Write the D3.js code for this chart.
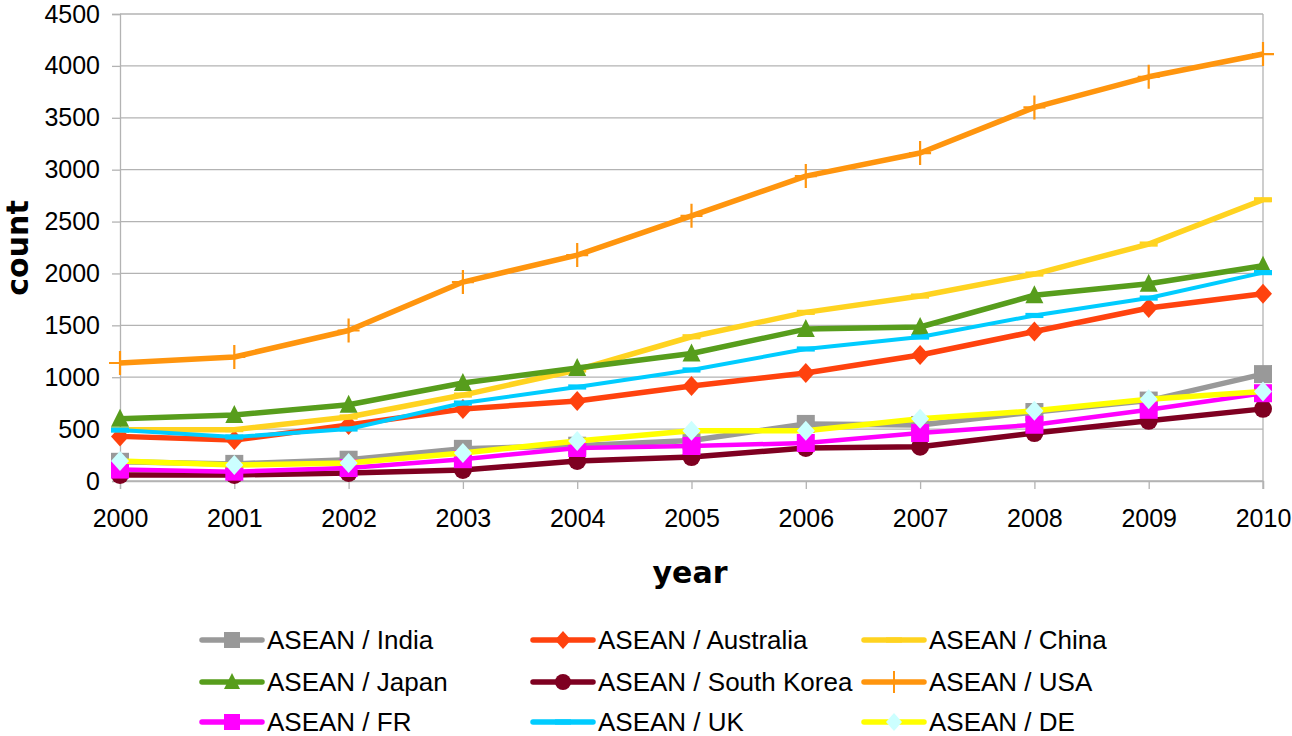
<!DOCTYPE html>
<html>
<head>
<meta charset="utf-8">
<script src="https://cdn.jsdelivr.net/npm/d3@7"></script>
<style>
  html, body { margin: 0; padding: 0; background: #ffffff; }
  svg { display: block; }
</style>
</head>
<body>
<svg id="chart" width="1292" height="736"></svg>
<script>
// ---- data ----
const years = ["2000","2001","2002","2003","2004","2005","2006","2007","2008","2009","2010"];
const yTicks = [0,500,1000,1500,2000,2500,3000,3500,4000,4500];
const seriesNames = ["ASEAN / India","ASEAN / Australia","ASEAN / China","ASEAN / Japan","ASEAN / South Korea","ASEAN / USA","ASEAN / FR","ASEAN / UK","ASEAN / DE"];
const india      = [185, 165, 205, 310, 340, 390, 550, 540, 665, 775, 1030];
const australia  = [430, 395, 540, 694, 771, 915, 1040, 1214, 1440, 1667, 1805];
const china      = [495, 495, 617, 828, 1070, 1390, 1625, 1782, 1994, 2283, 2710];
const japan      = [600, 636, 735, 944, 1089, 1228, 1464, 1484, 1790, 1900, 2075];
const southKorea = [58, 58, 77, 106, 193, 231, 318, 330, 462, 580, 695];
const usa        = [1137, 1195, 1450, 1917, 2177, 2555, 2938, 3160, 3600, 3895, 4114];
const fr         = [110, 90, 125, 210, 318, 337, 366, 462, 542, 686, 846];
const uk         = [491, 424, 501, 751, 906, 1070, 1272, 1387, 1595, 1763, 2008];
const de         = [193, 154, 173, 270, 385, 485, 485, 599, 676, 788, 862];
const seriesValues = [india, australia, china, japan, southKorea, usa, fr, uk, de];

// ---- styles ----
const styles = [
  {color:"#999999", width:5.5, marker:"square",   mfill:"#999999"},
  {color:"#ff420e", width:5.5, marker:"diamond",  mfill:"#ff420e"},
  {color:"#ffd320", width:5.5, marker:"hbar",     mfill:"#ffd320"},
  {color:"#579d1c", width:5.5, marker:"triangle", mfill:"#579d1c"},
  {color:"#7e0021", width:5.5, marker:"circle",   mfill:"#7e0021"},
  {color:"#ff950e", width:5.5, marker:"plus",     mfill:"#ff950e"},
  {color:"#ff00ff", width:4.5, marker:"square",   mfill:"#ff00ff"},
  {color:"#00ccff", width:4,   marker:"hbar",     mfill:"#00ccff"},
  {color:"#ffff00", width:5.5, marker:"diamond",  mfill:"#ccffff"}
];

const svg = d3.select("#chart");
const plot = {left:120, right:1263, top:14, bottom:481};
const gridColor = "#b3b3b3";

const x = d3.scalePoint().domain(years).range([plot.left, plot.right]).padding(0);
const y = d3.scaleLinear().domain([0, 4500]).range([plot.bottom, plot.top]);

// gridlines
svg.append("g")
  .selectAll("line").data(yTicks).join("line")
  .attr("x1", plot.left).attr("x2", plot.right)
  .attr("y1", d => y(d)).attr("y2", d => y(d))
  .attr("stroke", gridColor).attr("stroke-width", 1.3);

// right frame
svg.append("line")
  .attr("x1", plot.right).attr("x2", plot.right)
  .attr("y1", plot.top).attr("y2", plot.bottom + 8)
  .attr("stroke", gridColor).attr("stroke-width", 1.3);

// y axis
const yAxis = svg.append("g")
  .attr("transform", `translate(${plot.left},0)`)
  .call(d3.axisLeft(y).tickValues(yTicks).tickSize(8).tickPadding(12).tickFormat(d3.format("d")));
yAxis.select(".domain").attr("stroke", gridColor).attr("stroke-width", 1.3);
yAxis.selectAll(".tick line").attr("stroke", gridColor).attr("stroke-width", 1.3);
yAxis.selectAll(".tick text")
  .attr("font-family", "'Liberation Sans', Arial, sans-serif")
  .attr("font-size", 25).attr("fill", "#000");

// x axis
const xAxis = svg.append("g")
  .attr("transform", `translate(0,${plot.bottom})`)
  .call(d3.axisBottom(x).tickSize(8).tickPadding(10));
xAxis.select(".domain").attr("stroke", gridColor).attr("stroke-width", 1.3);
xAxis.selectAll(".tick line").attr("stroke", gridColor).attr("stroke-width", 1.3);
xAxis.selectAll(".tick text")
  .attr("font-family", "'Liberation Sans', Arial, sans-serif")
  .attr("font-size", 25).attr("fill", "#000")
  .attr("y", 46).attr("dy", 0);

// axis titles
svg.append("text")
  .attr("x", 690).attr("y", 583)
  .attr("text-anchor", "middle")
  .attr("font-family", "'DejaVu Sans', sans-serif")
  .attr("font-weight", "bold").attr("font-size", 30)
  .text("year");
svg.append("text")
  .attr("transform", "translate(28,248) rotate(-90)")
  .attr("text-anchor", "middle")
  .attr("font-family", "'DejaVu Sans', sans-serif")
  .attr("font-weight", "bold").attr("font-size", 30)
  .text("count");

// marker path generator
function markerPath(type, s) {
  const h = s / 2;
  switch (type) {
    case "square":   return `M${-h},${-h}H${h}V${h}H${-h}Z`;
    case "diamond":  return `M0,${-h-1}L${h},0L0,${h+1}L${-h},0Z`;
    case "triangle": return `M0,${-h-1}L${h},${h-1}L${-h},${h-1}Z`;
    case "circle":   return d3.symbol().type(d3.symbolCircle).size(Math.PI * h * h)();
    case "hbar":     return `M${-h},-2.6H${h}V2.6H${-h}Z`;
    case "plus":     return `M${-h-1},0H${h+1}M0,${-h-2}V${h+2}`;
  }
}

const line = d3.line().x((d, i) => x(years[i])).y(d => y(d));

seriesValues.forEach((vals, si) => {
  const st = styles[si];
  const g = svg.append("g");
  g.append("path")
    .attr("d", line(vals))
    .attr("fill", "none")
    .attr("stroke", st.color)
    .attr("stroke-width", st.width)
    .attr("stroke-linejoin", "round");
  g.selectAll("path.m").data(vals).join("path")
    .attr("class", "m")
    .attr("transform", (d, i) => `translate(${x(years[i])},${y(d)})`)
    .attr("d", markerPath(st.marker, st.marker === "plus" ? 20 : 18))
    .attr("fill", st.marker === "plus" ? "none" : st.mfill)
    .attr("stroke", st.marker === "plus" ? st.mfill : "none")
    .attr("stroke-width", st.marker === "plus" ? 2.2 : 0);
});

// legend
const legendCols = [267, 598, 929];
const legendRows = [640, 682, 722];
seriesNames.forEach((name, si) => {
  const st = styles[si];
  const tx = legendCols[si % 3];
  const cy = legendRows[Math.floor(si / 3)];
  const g = svg.append("g");
  g.append("line")
    .attr("x1", tx - 65).attr("x2", tx - 5)
    .attr("y1", cy).attr("y2", cy)
    .attr("stroke", st.color).attr("stroke-width", 5.5)
    .attr("stroke-linecap", "round");
  g.append("path")
    .attr("transform", `translate(${tx - 35},${cy})`)
    .attr("d", markerPath(st.marker, st.marker === "plus" ? 18 : 16))
    .attr("fill", st.marker === "plus" ? "none" : st.mfill)
    .attr("stroke", st.marker === "plus" ? st.mfill : "none")
    .attr("stroke-width", st.marker === "plus" ? 2 : 0);
  g.append("text")
    .attr("x", tx).attr("y", cy + 9)
    .attr("font-family", "'Liberation Sans', Arial, sans-serif")
    .attr("font-size", 26).attr("fill", "#000")
    .text(name);
});
</script>
</body>
</html>
